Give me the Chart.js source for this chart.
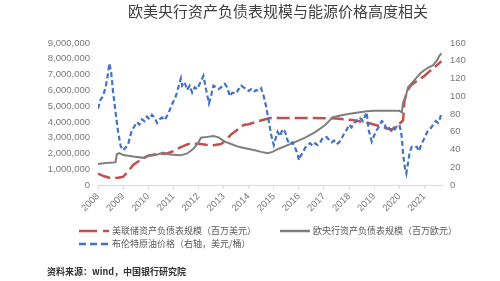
<!DOCTYPE html>
<html>
<head>
<meta charset="utf-8">
<script src="https://cdn.jsdelivr.net/npm/chart.js@4/dist/chart.umd.min.js"></script>
<style>
  body { margin: 0; background: #fff; }
  #wrap { position: relative; width: 500px; height: 281px; overflow: hidden; }
  #chart { position: absolute; left: 0; top: 0; }
  .title { position: absolute; left: 0; top: 2px; width: 556px; text-align: center;
           font: 15px "Noto Sans CJK SC", sans-serif; color: #404040; line-height: 18px; }
  .lg { position: absolute; font: 9px "Noto Sans CJK SC", sans-serif; color: #595959;
        line-height: 12px; white-space: nowrap; }
  .lg svg { position: absolute; left: 0; top: 3px; }
  .lg span { position: absolute; left: 33px; top: 0; }
  .src { position: absolute; left: 47px; top: 265px; font: bold 9px "Noto Sans CJK SC", sans-serif;
         color: #333; line-height: 13px; white-space: nowrap; }
</style>
</head>
<body>
<div id="wrap">
  <canvas id="chart" width="500" height="281"></canvas>
  <div class="title">欧美央行资产负债表规模与能源价格高度相关</div>
  <div class="lg" style="left:79px; top:225px; width:180px; height:12px;">
    <svg width="30" height="6"><line x1="0" y1="3" x2="30" y2="3" stroke="#C0504D" stroke-width="2.5" stroke-dasharray="18,6"/></svg>
    <span>美联储资产负债表规模（百万美元）</span>
  </div>
  <div class="lg" style="left:280px; top:225px; width:180px; height:12px;">
    <svg width="30" height="6"><line x1="0" y1="3" x2="30" y2="3" stroke="#7F7F7F" stroke-width="2.5"/></svg>
    <span>欧央行资产负债表规模（百万欧元）</span>
  </div>
  <div class="lg" style="left:79px; top:238px; width:180px; height:12px;">
    <svg width="30" height="6"><line x1="0" y1="3" x2="30" y2="3" stroke="#4472C4" stroke-width="2.5" stroke-dasharray="7,4"/></svg>
    <span>布伦特原油价格（右轴，美元/桶）</span>
  </div>
  <div class="src">资料来源：wind，中国银行研究院</div>
</div>
<script>
// 年份刻度
const years = [2008, 2009, 2010, 2011, 2012, 2013, 2014, 2015, 2016, 2017, 2018, 2019, 2020, 2021];

// 美联储资产负债表（百万美元）
const fedDates = [2008.0, 2008.25, 2008.45, 2008.75, 2009.0, 2009.2, 2009.4, 2009.7, 2010.0, 2010.3, 2010.75,
  2011.0, 2011.3, 2011.6, 2012.0, 2012.3, 2012.6, 2012.9, 2013.1, 2013.3, 2013.55, 2013.8, 2014.0, 2014.4,
  2014.85, 2015.5, 2016.5, 2017.5, 2018.2, 2018.85, 2019.5, 2019.7, 2019.85, 2020.05, 2020.15, 2020.2,
  2020.3, 2020.45, 2020.7, 2020.95, 2021.2, 2021.4, 2021.68];
const fedValues = [720000, 550000, 460000, 450000, 520000, 850000, 1270000, 1600000, 1850000, 1950000, 2000000,
  2150000, 2400000, 2600000, 2620000, 2550000, 2520000, 2600000, 2850000, 3200000, 3500000, 3800000, 3850000, 4050000,
  4240000, 4250000, 4250000, 4220000, 4100000, 3900000, 3600000, 3500000, 3700000, 3950000, 4100000, 5300000,
  5900000, 6300000, 6600000, 6850000, 7200000, 7450000, 7850000];

// 欧央行资产负债表（百万欧元）
const ecbDates = [2008.0, 2008.3, 2008.6, 2008.7, 2008.75, 2008.85, 2009.0, 2009.4, 2009.8, 2010.0, 2010.3,
  2010.6, 2010.8, 2011.0, 2011.3, 2011.55, 2011.8, 2012.0, 2012.1, 2012.35, 2012.6, 2012.8, 2013.05, 2013.3,
  2013.6, 2014.0, 2014.25, 2014.5, 2014.75, 2014.95, 2015.2, 2015.75, 2016.25, 2016.65, 2017.05, 2017.35,
  2017.75, 2018.15, 2018.7, 2019.0, 2020.0, 2020.1, 2020.15, 2020.25, 2020.35, 2020.6, 2020.85, 2021.1,
  2021.35, 2021.5, 2021.6, 2021.68];
const ecbValues = [1330000, 1400000, 1420000, 1450000, 1950000, 2020000, 1900000, 1800000, 1720000, 1850000, 1900000,
  2050000, 1950000, 1920000, 1880000, 2000000, 2300000, 2700000, 3000000, 3050000, 3100000, 3020000, 2750000, 2600000,
  2420000, 2280000, 2200000, 2100000, 2020000, 2100000, 2300000, 2650000, 3000000, 3350000, 3800000, 4300000,
  4430000, 4550000, 4680000, 4700000, 4700000, 4600000, 5250000, 5600000, 6200000, 6650000, 7100000, 7400000,
  7600000, 7900000, 8200000, 8350000];

// 布伦特原油价格（美元/桶，右轴）
const brentDates = [2008.0, 2008.1, 2008.2, 2008.3, 2008.38, 2008.45, 2008.52, 2008.6, 2008.7, 2008.8, 2008.9,
  2009.0, 2009.1, 2009.2, 2009.35, 2009.45, 2009.55, 2009.65, 2009.75, 2009.85, 2009.95, 2010.05, 2010.15,
  2010.25, 2010.35, 2010.45, 2010.55, 2010.65, 2010.75, 2010.85, 2010.95, 2011.1, 2011.2, 2011.3, 2011.35,
  2011.45, 2011.55, 2011.65, 2011.75, 2011.85, 2011.95, 2012.05, 2012.2, 2012.3, 2012.42, 2012.5, 2012.6,
  2012.7, 2012.8, 2012.9, 2013.05, 2013.15, 2013.25, 2013.35, 2013.5, 2013.6, 2013.7, 2013.8, 2013.9, 2014.0,
  2014.1, 2014.2, 2014.3, 2014.4, 2014.5, 2014.6, 2014.7, 2014.8, 2014.9, 2015.0, 2015.05, 2015.15, 2015.25,
  2015.35, 2015.45, 2015.55, 2015.65, 2015.75, 2015.85, 2015.95, 2016.0, 2016.05, 2016.15, 2016.25, 2016.35,
  2016.45, 2016.55, 2016.65, 2016.75, 2016.85, 2016.95, 2017.1, 2017.2, 2017.3, 2017.4, 2017.5, 2017.6, 2017.7,
  2017.8, 2017.9, 2018.0, 2018.1, 2018.2, 2018.3, 2018.4, 2018.5, 2018.55, 2018.7, 2018.78, 2018.9, 2019.0,
  2019.1, 2019.2, 2019.3, 2019.4, 2019.5, 2019.6, 2019.7, 2019.8, 2019.9, 2020.0, 2020.05, 2020.1, 2020.15,
  2020.22, 2020.28, 2020.33, 2020.42, 2020.5, 2020.6, 2020.7, 2020.78, 2020.88, 2020.95, 2021.05, 2021.15,
  2021.25, 2021.35, 2021.45, 2021.55, 2021.62, 2021.68];
const brentValues = [86, 96, 100, 110, 122, 137, 128, 105, 82, 60, 44,
  39, 42, 46, 62, 66, 71, 68, 74, 72, 77, 74, 79,
  76, 70, 74, 76, 73, 78, 84, 91, 100, 110, 120, 112,
  116, 107, 112, 104, 110, 108, 114, 123, 108, 92, 100, 112,
  110, 108, 110, 114, 110, 100, 104, 103, 108, 112, 110, 108, 106,
  108, 105, 107, 106, 109, 100, 88, 72, 56, 45, 50, 60, 55,
  63, 60, 50, 46, 48, 42, 35, 28, 32, 36, 42, 45,
  47, 44, 47, 45, 48, 53, 54, 51, 48, 50, 46, 48, 52,
  58, 62, 68, 65, 70, 72, 76, 74, 72, 82, 62, 49, 56,
  62, 66, 72, 70, 62, 64, 60, 62, 66, 68, 62, 54, 35,
  20, 13, 22, 38, 43, 42, 43, 38, 46, 50, 56, 62,
  64, 68, 72, 70, 75, 82];

function toPoints(xs, ys) {
  return xs.map((x, i) => ({ x: x, y: ys[i] }));
}

const tickFont = { family: 'Liberation Sans', size: 9.5 };
const tickColor = '#7A7A7A';

new Chart(document.getElementById('chart'), {
  type: 'line',
  data: {
    datasets: [
      {
        label: '美联储资产负债表规模（百万美元）',
        data: toPoints(fedDates, fedValues),
        borderColor: '#C0504D',
        borderWidth: 2.5,
        borderDash: [13, 5],
        yAxisID: 'y',
        order: 2
      },
      {
        label: '欧央行资产负债表规模（百万欧元）',
        data: toPoints(ecbDates, ecbValues),
        borderColor: '#7F7F7F',
        borderWidth: 2,
        yAxisID: 'y',
        order: 1
      },
      {
        label: '布伦特原油价格（右轴，美元/桶）',
        data: toPoints(brentDates, brentValues),
        borderColor: '#4472C4',
        borderWidth: 2.2,
        borderDash: [5, 3],
        yAxisID: 'y1',
        order: 0
      }
    ]
  },
  options: {
    responsive: false,
    animation: false,
    elements: { point: { radius: 0 }, line: { tension: 0, fill: false } },
    layout: { padding: { top: 43, bottom: 56, left: 0, right: 0 } },
    plugins: { legend: { display: false }, tooltip: { enabled: false } },
    scales: {
      x: {
        type: 'linear',
        min: 2008,
        max: 2021.7,
        afterBuildTicks: s => { s.ticks = years.map(v => ({ value: v })); },
        afterFit: s => { s.height = 40; },
        ticks: {
          callback: v => String(v),
          minRotation: 45,
          maxRotation: 45,
          autoSkip: false,
          padding: 2,
          color: tickColor,
          font: tickFont
        },
        grid: { drawOnChartArea: false, tickLength: 4, color: '#D9D9D9' },
        border: { color: '#D9D9D9' }
      },
      y: {
        position: 'left',
        min: 0,
        max: 9000000,
        afterFit: s => { s.width = 98; },
        ticks: {
          stepSize: 1000000,
          padding: 8,
          color: tickColor,
          font: tickFont,
          callback: v => v.toLocaleString('en-US')
        },
        grid: { display: false, drawTicks: false },
        border: { display: false }
      },
      y1: {
        position: 'right',
        min: 0,
        max: 160,
        afterFit: s => { s.width = 58; },
        ticks: { stepSize: 20, padding: 8, color: tickColor, font: tickFont },
        grid: { display: false, drawTicks: false },
        border: { display: false }
      }
    }
  }
});
</script>
</body>
</html>
